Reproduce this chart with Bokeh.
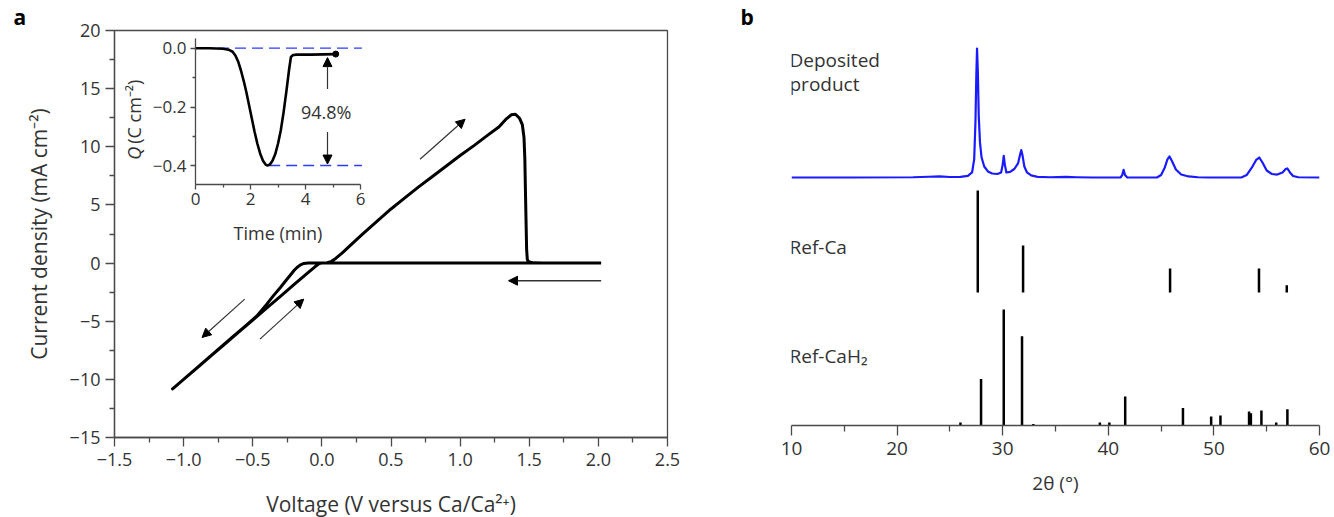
from bokeh.plotting import figure
from bokeh.models import (Range1d, LinearAxis, FixedTicker, CustomJSTickFormatter,
                          Arrow, NormalHead, Label, Title)
from bokeh.layouts import row
from bokeh.embed import file_html
from bokeh.resources import INLINE

FONT = "Open Sans"
TXT = "#333333"
AX = "#4a4a4a"

# ---------------- data: panel a (cyclic voltammogram) ----------------
cv_voltage = [2.02, 1.0, 0.0, -0.10, -0.13, -0.155, -0.18, -0.20, -0.22, -0.26, -0.30, -0.35,
              -0.40, -0.47, -0.55, -0.65, -0.75, -0.85, -0.95, -1.05, -1.08,
              -1.0, -0.9, -0.8, -0.7, -0.6, -0.5, -0.4, -0.3, -0.2, -0.1, -0.05, -0.02, 0.0,
              0.04, 0.07, 0.10, 0.15, 0.2, 0.3, 0.4, 0.5, 0.6, 0.7, 0.8, 0.9, 1.0, 1.1, 1.2,
              1.28, 1.33, 1.37, 1.40, 1.43, 1.45, 1.462, 1.468, 1.472, 1.477, 1.481, 1.486,
              1.495, 1.53, 1.6]
cv_current = [0, 0, 0, 0, -0.03, -0.15, -0.38, -0.62, -0.92, -1.5, -2.1, -2.8,
              -3.55, -4.55, -5.37, -6.40, -7.43, -8.46, -9.49, -10.51, -10.82,
              -10.0, -8.98, -7.96, -6.94, -5.92, -4.9, -3.88, -2.86, -1.84, -0.82, -0.32, -0.05, 0.0,
              0.03, 0.15, 0.4, 0.9, 1.45, 2.55, 3.6, 4.65, 5.6, 6.55, 7.45, 8.35, 9.25, 10.1, 11.0,
              11.7, 12.35, 12.75, 12.8, 12.45, 11.9, 10.8, 9.0, 6.5, 3.5, 1.2, 0.3,
              0.12, 0.02, 0.0]
volt_ticks = [-1.5, -1.0, -0.5, 0.0, 0.5, 1.0, 1.5, 2.0, 2.5]
volt_minor = [-1.25, -0.75, -0.25, 0.25, 0.75, 1.25, 1.75, 2.25]
curr_ticks = [-15, -10, -5, 0, 5, 10, 15, 20]
curr_minor = [-12.5, -7.5, -2.5, 2.5, 7.5, 12.5, 17.5]

# inset: charge vs time
inset_time = [0, 0.5, 1.0, 1.2, 1.35, 1.45, 1.55, 1.65, 1.75, 1.85, 1.95, 2.05, 2.15, 2.25,
              2.35, 2.45, 2.55, 2.62, 2.7, 2.8, 2.9, 3.0, 3.1, 3.2, 3.3, 3.4, 3.47, 3.55,
              3.7, 4.2, 5.1]
inset_charge = [0, 0, -0.002, -0.005, -0.012, -0.025, -0.045, -0.075, -0.11, -0.15, -0.195,
                -0.24, -0.285, -0.325, -0.358, -0.382, -0.396, -0.399, -0.396, -0.383, -0.36,
                -0.325, -0.28, -0.22, -0.15, -0.075, -0.03, -0.023, -0.022, -0.022, -0.020]
inset_levels = [0.0, -0.399]          # dashed reference levels
inset_level_start = [0.2, 2.68]
inset_level_end = [6.05, 6.05]
time_ticks = [0, 2, 4, 6]
time_minor = [1, 3, 5]
q_ticks = [0.0, -0.2, -0.4]
q_minor = [-0.1, -0.3]
efficiency = "94.8%"

# ---------------- data: panel b (XRD) ----------------
dep_theta = [10, 16, 21.5, 23.0, 24.0, 25.0, 26.0, 26.7, 27.1, 27.3, 27.42, 27.5, 27.57, 27.65,
             27.73, 27.85, 28.0, 28.25, 28.6, 29.0, 29.5, 29.85, 30.0, 30.1, 30.2, 30.35, 30.7,
             31.1, 31.45, 31.65, 31.76, 31.88, 32.05, 32.3, 32.7, 33.3, 34.5, 36.0, 37.0, 38.5,
             41.15, 41.32, 41.45, 41.58, 41.8, 44.6, 45.0, 45.35, 45.6, 45.8, 46.05, 46.4, 46.9,
             47.6, 48.5, 49.5, 52.6, 53.1, 53.6, 54.0, 54.3, 54.6, 55.0, 55.5, 56.0, 56.5, 56.8,
             56.95, 57.2, 57.5, 58.0, 60]
dep_int = [0, 0, 0.2, 0.6, 0.8, 0.4, 0.5, 1.2, 3.9, 14, 43, 78, 100, 81,
           48, 27, 15.5, 8.5, 4.7, 3.1, 2.7, 3.9, 10, 16.8, 10, 3.9, 4.3,
           6.6, 10.9, 17.8, 21.2, 17, 8.5, 3.9, 1.6, 0.5, 0.2, 0.5, 0.2, 0,
           0, 1.9, 6, 1.9, 0, 0, 1.9, 7.8, 14, 16.3, 12.4, 6.2, 2.3,
           0.8, 0.2, 0, 0, 1.9, 7.8, 13.6, 15.5, 11.6, 5.4, 2.7, 2.3, 3.9, 6.6,
           7, 3.9, 1.2, 0.2, 0]
ca_theta = [27.64, 31.93, 45.85, 54.27, 56.9]
ca_int = [100, 46, 23.5, 23.5, 7]
cah2_theta = [26.0, 27.95, 30.1, 31.83, 32.9, 39.2, 40.1, 41.6, 47.07, 49.74, 50.62,
              53.33, 53.5, 54.5, 55.9, 56.96]
cah2_int = [2.6, 40, 100, 77, 1.3, 2.6, 2.6, 25, 15, 7.8, 8.6, 12, 10.5, 13, 2.6, 14]
theta_ticks = [10, 20, 30, 40, 50, 60]
theta_minor = [15, 25, 35, 45, 55]


def style_axis(ax, size="18px", out=9, mout=5):
    ax.axis_line_color = AX
    ax.axis_line_width = 1.3
    ax.major_tick_line_color = AX
    ax.minor_tick_line_color = AX
    ax.major_tick_line_width = 1.3
    ax.minor_tick_line_width = 1.3
    ax.major_tick_out = out
    ax.major_tick_in = 0
    ax.minor_tick_out = mout
    ax.minor_tick_in = 0
    ax.major_label_text_font = FONT
    ax.major_label_text_font_size = size
    ax.major_label_text_color = TXT
    ax.axis_label_text_font = FONT
    ax.axis_label_text_font_size = "21px"
    ax.axis_label_text_font_style = "normal"
    ax.axis_label_text_color = TXT


fmt1 = CustomJSTickFormatter(code="return tick.toFixed(1).replace('-', '\\u2212');")
fmt0 = CustomJSTickFormatter(code="return tick.toFixed(0).replace('-', '\\u2212');")

# ---------------- panel a ----------------
pa = figure(frame_width=553, frame_height=407, min_border_left=114, min_border_right=46,
            min_border_top=28, min_border_bottom=74,
            x_range=Range1d(-1.5, 2.5), y_range=Range1d(-15, 20),
            output_backend="svg", toolbar_location=None)
pa.title = Title(text="a", align="left", offset=-101, standoff=0, text_font=FONT,
                 text_font_size="21px", text_font_style="bold", text_color="black")
pa.xgrid.visible = False
pa.ygrid.visible = False
pa.outline_line_color = AX
pa.outline_line_width = 1.3
pa.background_fill_color = "white"
pa.border_fill_color = "white"

mx = pa.below[0]
my = pa.left[0]
style_axis(mx)
style_axis(my)
mx.ticker = FixedTicker(ticks=volt_ticks, minor_ticks=volt_minor)
my.ticker = FixedTicker(ticks=curr_ticks, minor_ticks=curr_minor)
mx.formatter = fmt1
my.formatter = fmt0
mx.axis_label = "Voltage (V versus Ca/Ca²⁺)"
my.axis_label = "Current density (mA cm⁻²)"
mx.major_label_standoff = 6
my.major_label_standoff = 5
mx.axis_label_standoff = 21
my.axis_label_standoff = 14

pa.line(cv_voltage, cv_current, line_color="black", line_width=3, line_join="round")

for (xs, ys, xe, ye, lw) in [(0.71, 8.93, 1.036, 12.37, 1.2), (2.02, -1.52, 1.35, -1.52, 1.6),
                              (-0.558, -3.1, -0.867, -6.4, 1.2), (-0.448, -6.54, -0.131, -3.1, 1.2)]:
    pa.add_layout(Arrow(x_start=xs, y_start=ys, x_end=xe, y_end=ye, line_color="#333333",
                        line_width=lw,
                        end=NormalHead(size=9, fill_color="black", line_color="black", line_width=1)))

# inset through extra ranges placed inside the frame
pa.extra_x_ranges = {"ix": Range1d(-2.9455, 17.1636)}
pa.extra_y_ranges = {"iy": Range1d(-1.3241, 0.0602)}

ixa = LinearAxis(x_range_name="ix", y_range_name="iy", fixed_location=-0.4626, bounds=(0, 6))
iya = LinearAxis(x_range_name="ix", y_range_name="iy", fixed_location=0, bounds=(-0.4626, 0.034))
for ax in (ixa, iya):
    style_axis(ax, size="17px", out=5, mout=3)
ixa.ticker = FixedTicker(ticks=time_ticks, minor_ticks=time_minor)
iya.ticker = FixedTicker(ticks=q_ticks, minor_ticks=q_minor)
ixa.formatter = fmt0
iya.formatter = fmt1
ixa.major_label_standoff = 4
iya.major_label_standoff = 4
pa.add_layout(ixa, "below")
pa.add_layout(iya, "left")

pa.segment(x0=inset_level_start, y0=inset_levels, x1=inset_level_end, y1=inset_levels,
           x_range_name="ix", y_range_name="iy", line_color="#2a3cff", line_width=1.3,
           line_dash="11 6")
pa.line(inset_time, inset_charge, x_range_name="ix", y_range_name="iy",
        line_color="black", line_width=2.6, line_join="round")
pa.scatter([inset_time[-1]], [inset_charge[-1]], x_range_name="ix", y_range_name="iy",
           size=6, color="black")

for (ys, ye) in [(-0.139, -0.032), (-0.285, -0.394)]:
    pa.add_layout(Arrow(x_start=4.8, y_start=ys, x_end=4.8, y_end=ye, x_range_name="ix",
                        y_range_name="iy", line_color="#333333", line_width=1.2,
                        end=NormalHead(size=9, fill_color="black", line_color="black", line_width=1)))
pa.add_layout(Label(x=4.75, y=-0.217, text=efficiency, x_range_name="ix", y_range_name="iy",
                    text_align="center", text_baseline="middle", text_font=FONT,
                    text_font_size="18px", text_color=TXT))
pa.add_layout(Label(x=3.0, y=-0.63, text="Time (min)", x_range_name="ix", y_range_name="iy",
                    text_align="center", text_baseline="middle", text_font=FONT,
                    text_font_size="18px", text_color=TXT))
pa.add_layout(Label(x=-2.25, y=-0.379, text="Q", x_range_name="ix", y_range_name="iy",
                    angle=90, angle_units="deg", text_align="left", text_baseline="middle",
                    text_font=FONT, text_font_size="18px", text_font_style="italic",
                    text_color=TXT))
pa.add_layout(Label(x=-2.25, y=-0.325, text="(C cm⁻²)", x_range_name="ix", y_range_name="iy",
                    angle=90, angle_units="deg", text_align="left", text_baseline="middle",
                    text_font=FONT, text_font_size="18px", text_color=TXT))

# ---------------- panel b ----------------
CAH2_BASE, CAH2_SCALE = 0.0, 1.16
CA_BASE, CA_SCALE = 133.0, 1.02
DEP_BASE, DEP_SCALE = 248.0, 1.29

pb = figure(frame_width=528, frame_height=395, min_border_left=78, min_border_right=11,
            min_border_top=28, min_border_bottom=86,
            x_range=Range1d(10, 60), y_range=Range1d(0, 395), y_axis_type=None,
            output_backend="svg", toolbar_location=None)
pb.title = Title(text="b", align="left", offset=-51, standoff=0, text_font=FONT,
                 text_font_size="21px", text_font_style="bold", text_color="black")
pb.xgrid.visible = False
pb.ygrid.visible = False
pb.outline_line_color = None
bx = pb.below[0]
style_axis(bx, size="19px", out=10, mout=6)
bx.ticker = FixedTicker(ticks=theta_ticks, minor_ticks=theta_minor)
bx.formatter = fmt0
bx.axis_label = "2θ (°)"
bx.axis_label_text_font_size = "19px"
bx.major_label_standoff = 6
bx.axis_label_standoff = 12

pb.line(dep_theta, [DEP_BASE + DEP_SCALE * v for v in dep_int], line_color="#1a1aff",
        line_width=2.2, line_join="round")
pb.segment(x0=ca_theta, y0=[CA_BASE] * len(ca_theta), x1=ca_theta,
           y1=[CA_BASE + CA_SCALE * v for v in ca_int], line_color="black", line_width=2.5)
pb.segment(x0=cah2_theta, y0=[CAH2_BASE] * len(cah2_theta), x1=cah2_theta,
           y1=[CAH2_BASE + CAH2_SCALE * v for v in cah2_int], line_color="black", line_width=2.5)

for (txt, yy) in [("Deposited", 365.5), ("product", 341.5), ("Ref-Ca", 179.0), ("Ref-CaH₂", 70.0)]:
    pb.add_layout(Label(x=10, x_offset=-2, y=yy, text=txt, text_font=FONT, text_font_size="19px",
                        text_color=TXT, text_align="left", text_baseline="alphabetic"))

layout = row(pa, pb)
open("out.html", "w").write(file_html(layout, INLINE))
